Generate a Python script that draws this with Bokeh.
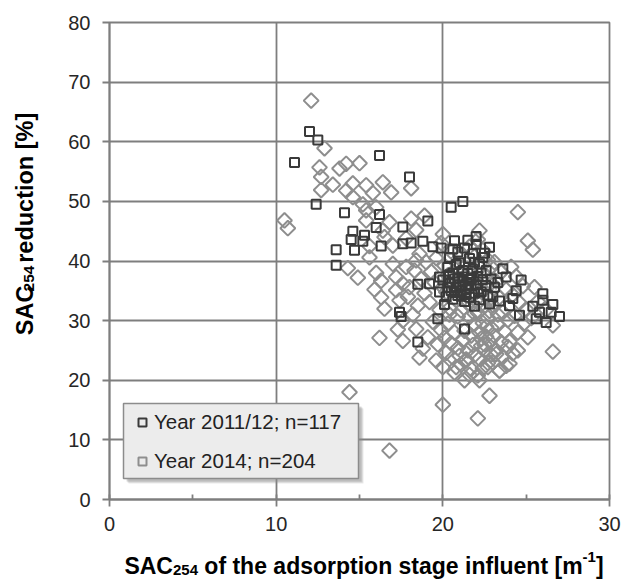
import numpy as np
from bokeh.plotting import figure
from bokeh.layouts import column, row
from bokeh.models import (Range1d, SingleIntervalTicker, Label, Legend, LegendItem,
                          BoxAnnotation, ColumnDataSource)
from bokeh.embed import file_html
from bokeh.resources import INLINE

# ---------------- data ----------------
sq_x = [12.0, 12.5, 11.1, 16.2, 18.0, 12.4, 21.2, 20.5, 14.1, 16.2,
        19.1, 16.0, 17.6, 14.6, 15.3, 14.5, 15.2, 16.3, 17.6, 18.1,
        18.8, 19.4, 19.9, 13.6, 14.7, 13.6, 20.7, 21.5, 22.0, 22.8,
        22.4, 22.2, 20.4, 23.6, 23.8, 24.7, 24.4, 23.1, 18.5, 19.2,
        19.8, 19.8, 20.1, 21.9, 22.8, 24.0, 24.2, 24.6, 25.4, 26.0,
        26.0, 26.6, 25.6, 26.2, 27.0, 26.5, 25.8, 17.4, 17.5, 19.7,
        21.3, 18.5,
        20.3, 20.6, 20.9, 21.2, 21.5, 21.8, 22.1, 20.4, 20.8, 21.1,
        21.4, 21.7, 22.0, 22.3, 20.2, 20.6, 20.9, 21.3, 21.6, 21.9,
        22.2, 20.5, 21.0, 21.5, 20.7, 21.2, 21.0, 21.6, 20.9, 21.3,
        22.5, 22.0, 20.6, 21.8, 22.6, 22.9, 23.3, 23.0, 22.6, 20.0,
        20.3, 21.7, 21.1, 20.8, 22.4, 21.4, 20.7, 22.1, 21.9, 22.7,
        23.4, 21.6, 20.4, 21.2, 22.3]
sq_y = [61.7, 60.3, 56.5, 57.7, 54.1, 49.5, 50.0, 49.0, 48.1, 47.8,
        46.7, 45.6, 45.7, 45.0, 44.3, 43.6, 43.3, 42.5, 42.9, 43.0,
        43.3, 42.4, 42.2, 41.9, 41.8, 39.3, 43.4, 43.5, 44.1, 42.3,
        40.6, 39.5, 40.6, 38.7, 37.3, 36.8, 35.0, 35.6, 36.1, 36.2,
        37.3, 34.8, 32.7, 32.4, 32.8, 32.5, 33.7, 30.9, 32.4, 34.5,
        33.4, 32.7, 30.3, 29.7, 30.7, 31.4, 31.4, 31.4, 30.7, 30.3,
        28.6, 26.4,
        38.9, 38.0, 37.2, 36.6, 37.9, 38.6, 37.4, 36.3, 35.5, 35.0,
        34.4, 35.8, 36.0, 34.8, 34.0, 33.6, 34.2, 33.2, 33.9, 34.6,
        33.5, 35.0, 36.0, 36.1, 37.0, 38.4, 39.7, 40.4, 41.5, 42.2,
        41.3, 42.8, 42.0, 41.2, 38.4, 37.0, 36.4, 34.0, 35.9, 36.8,
        35.6, 37.1, 34.1, 39.4, 36.9, 35.2, 34.7, 35.3, 39.8, 34.2,
        33.3, 36.9, 37.7, 37.3, 38.0]

di_x = [12.1, 12.9, 13.8, 14.2, 15.0, 12.6, 12.7, 13.4, 12.7, 14.2,
        14.6, 15.4, 15.8, 16.4, 16.9, 18.1, 14.6, 15.2, 15.4, 16.0,
        10.5, 10.7, 18.1, 18.9, 16.8, 15.4, 16.4, 24.5, 25.1, 25.4,
        22.2, 20.0, 15.6, 14.3, 17.0, 17.8, 18.4, 16.3, 17.2, 18.0,
        16.3, 16.5, 17.4, 17.6, 18.4, 16.2, 17.6, 18.8, 19.6, 20.0,
        20.8, 21.4, 21.3, 22.2, 22.1, 22.7, 23.4, 24.0, 24.2, 24.5,
        23.2, 26.6, 20.0, 22.1, 22.8, 14.4, 16.8,
        18.6, 19.0, 19.3, 18.7, 19.5, 18.9, 19.2, 19.8, 18.5, 19.4,
        19.9, 19.1, 19.7, 18.3, 17.6, 17.9, 17.2, 18.2, 19.6, 19.9,
        20.1, 20.3, 20.6, 20.2, 20.8, 20.4, 20.9, 20.3, 20.7, 20.1,
        20.5, 20.9, 20.2, 20.6, 21.0, 20.4, 20.8, 20.5, 20.0, 20.7,
        21.1, 21.4, 21.2, 21.7, 21.3, 21.8, 21.5, 21.1, 21.6, 21.9,
        21.3, 21.7, 21.2, 21.8, 21.5, 21.9, 21.4, 21.1, 21.7, 21.6,
        21.9, 21.3, 21.6, 21.0,
        22.1, 22.4, 22.7, 22.2, 22.6, 22.9, 22.3, 22.8, 22.5, 22.1,
        22.7, 22.4, 22.9, 22.2, 22.6, 22.8, 22.3, 22.5, 22.9, 22.2,
        22.7, 22.4, 22.6, 22.3, 22.8, 22.5, 22.1, 22.9,
        23.1, 23.5, 23.2, 23.8, 23.4, 23.0, 23.6, 23.9, 23.3, 23.7,
        23.1, 23.5, 23.9, 23.2, 23.6, 23.0, 23.4, 23.8, 23.3,
        24.1, 24.4, 24.8, 24.2, 24.6, 25.0, 24.3, 24.9, 25.3, 25.7,
        25.5, 26.2, 26.6, 24.5, 25.1, 24.0,
        16.5, 17.0, 17.8, 18.4, 16.0, 15.6, 14.9, 15.9, 17.3, 18.6]
di_y = [66.9, 58.9, 55.5, 56.3, 56.4, 55.7, 54.1, 52.8, 51.9, 51.8,
        53.0, 52.7, 51.4, 53.2, 51.5, 52.2, 50.7, 49.5, 48.5, 49.0,
        46.8, 45.5, 47.1, 47.6, 46.5, 46.8, 45.1, 48.2, 43.4, 41.9,
        45.1, 44.5, 40.6, 38.8, 39.5, 39.0, 40.1, 36.7, 37.3, 35.6,
        33.9, 32.0, 33.4, 30.0, 28.6, 27.1, 26.6, 25.3, 23.3, 22.2,
        22.2, 23.3, 20.0, 20.0, 20.8, 22.2, 21.6, 22.8, 24.5, 25.0,
        24.4, 24.8, 15.9, 13.6, 17.4, 18.0, 8.2,
        41.2, 39.8, 38.2, 37.0, 36.4, 34.6, 33.1, 31.8, 32.5, 29.8,
        28.4, 27.2, 26.0, 38.4, 36.2, 34.0, 35.1, 31.0, 40.5, 43.0,
        39.2, 37.6, 36.1, 34.8, 33.5, 32.1, 30.7, 29.5, 28.0, 27.1,
        26.2, 25.4, 24.6, 23.8, 24.1, 31.0, 38.5, 41.6, 35.6, 21.3,
        41.0, 39.6, 38.0, 36.8, 35.4, 34.2, 32.9, 31.7, 30.6, 29.4,
        28.3, 27.5, 26.7, 25.9, 25.0, 24.2, 23.5, 22.6, 21.9, 20.9,
        31.2, 33.8, 42.4, 36.5,
        43.6, 41.8, 40.2, 38.9, 37.5, 36.3, 35.0, 33.6, 32.4, 31.3,
        30.5, 29.6, 28.8, 28.0, 27.3, 26.5, 25.8, 25.0, 24.3, 23.6,
        22.9, 22.0, 29.0, 27.0, 31.6, 26.0, 33.0, 39.0,
        39.8, 38.1, 36.6, 35.2, 33.9, 32.6, 31.4, 30.1, 29.3, 28.2,
        27.4, 26.4, 25.6, 25.0, 23.9, 23.0, 21.6, 22.4, 31.0,
        39.0, 37.4, 35.8, 34.3, 33.0, 31.9, 30.8, 29.6, 30.4, 33.2,
        35.6, 31.8, 29.2, 28.0, 27.2, 26.5,
        44.0, 42.6, 43.8, 45.2, 38.0, 42.5, 37.2, 35.2, 28.5, 23.8]

legend_labels = ["Year 2011/12; n=117", "Year 2014; n=204"]

# ---------------- layout constants (page pixels) ----------------
PW, PH = 624, 583          # whole picture
LW = 48                    # width of left title strip
TH = 540                   # height of top row (plot + tick labels)
FL, FR, FT, FB = 109, 609, 22, 499   # plot frame in page pixels
XMIN, XMAX, YMIN, YMAX = 0, 30, 0, 80

FONT = "Liberation Sans"
GRID = "#7e7e7e"


def text_fig(w, h):
    f = figure(width=w, height=h, output_backend="svg", toolbar_location=None,
               x_range=Range1d(0, w), y_range=Range1d(0, h),
               x_axis_type=None, y_axis_type=None,
               background_fill_color="white", border_fill_color="white")
    f.min_border = 0
    f.min_border_left = f.min_border_right = f.min_border_top = f.min_border_bottom = 0
    f.outline_line_color = None
    f.grid.visible = False
    return f


# ---------------- main plot ----------------
p = figure(width=PW - LW, height=TH, output_backend="svg", toolbar_location=None,
           x_range=Range1d(XMIN, XMAX), y_range=Range1d(YMIN, YMAX),
           background_fill_color="white", border_fill_color="white")
p.min_border_left = FL - LW
p.min_border_right = PW - FR
p.min_border_top = FT
p.min_border_bottom = TH - FB
p.outline_line_color = GRID
p.outline_line_width = 1.8

for ax in (p.xaxis, p.yaxis):
    ax.axis_line_color = GRID
    ax.axis_line_width = 1.8
    ax.major_tick_line_color = GRID
    ax.major_tick_line_width = 1.8
    ax.major_tick_out = 7
    ax.major_tick_in = 0
    ax.minor_tick_line_color = GRID
    ax.minor_tick_line_width = 1.8
    ax.minor_tick_in = 5
    ax.minor_tick_out = 0
    ax.major_label_text_font = FONT
    ax.major_label_text_font_size = "20px"
    ax.major_label_text_color = "#262626"
p.xaxis.ticker = SingleIntervalTicker(interval=10, num_minor_ticks=2)
p.yaxis.ticker = SingleIntervalTicker(interval=10, num_minor_ticks=0)
p.xaxis.major_label_standoff = 10
p.yaxis.major_label_standoff = 12

p.xgrid.ticker = SingleIntervalTicker(interval=10)
p.ygrid.ticker = SingleIntervalTicker(interval=10)
for g in (p.xgrid, p.ygrid):
    g.grid_line_color = GRID
    g.grid_line_width = 1.8

di_src = ColumnDataSource(dict(x=di_x, y=di_y))
sq_src = ColumnDataSource(dict(x=sq_x, y=sq_y))
r_di = p.scatter("x", "y", source=di_src, marker="square", angle=np.pi / 4, size=10.5,
                 line_color="#8e8e8e", line_width=2, fill_color=None)
r_sq = p.scatter("x", "y", source=sq_src, marker="square", size=9,
                 line_color="#3a3a3a", line_width=2, fill_color=None)


def xd(px):
    return XMIN + (px - FL) / (FR - FL) * (XMAX - XMIN)


def yd(py):
    return YMIN + (FB - py) / (FB - FT) * (YMAX - YMIN)


# legend box (page pixels) with soft shadow
BL, BR, BT, BB = 123, 358, 403, 478
for off, alpha in ((5, 0.18), (4, 0.25), (3, 0.3)):
    p.add_layout(BoxAnnotation(left=xd(BL + off), right=xd(BR + off),
                               top=yd(BT + off), bottom=yd(BB + off),
                               fill_color="#8a8a8a", fill_alpha=alpha, line_color=None))
p.add_layout(BoxAnnotation(left=xd(BL), right=xd(BR), top=yd(BT), bottom=yd(BB),
                           fill_color="#ececec", fill_alpha=1,
                           line_color="#8c8c8c", line_width=1.5, line_alpha=1))

legend = Legend(items=[LegendItem(label=legend_labels[0], renderers=[r_sq]),
                       LegendItem(label=legend_labels[1], renderers=[r_di])],
                location=(BL - FL + 7, FB - BB + 5))
legend.background_fill_alpha = 0
legend.border_line_color = None
legend.label_text_font = FONT
legend.label_text_font_size = "20.5px"
legend.label_text_color = "#222222"
legend.label_height = 20
legend.glyph_height = 20
legend.glyph_width = 24
legend.padding = 8
legend.spacing = 15
legend.label_standoff = 0
legend.margin = 0
p.add_layout(legend, "center")

# ---------------- composed axis titles (sub/superscripts) ----------------
AB = {' ': 278, 'S': 667, 'A': 722, 'C': 722, 'o': 611, 'f': 333, 't': 333, 'h': 611,
      'e': 556, 'a': 556, 'd': 611, 's': 556, 'r': 389, 'p': 611, 'i': 278, 'n': 611,
      'g': 611, 'u': 611, 'l': 278, '[': 333, ']': 333, 'm': 889, '-': 333, '%': 889,
      'c': 556}


def tw(t, size):
    return sum(AB.get(ch, 556) for ch in t) * size / 1000.0


def place(fig, fig_h, ox, oy, pieces, center, base, vertical):
    """center/base in page pixels; (ox, oy) = page position of fig's top-left."""
    total = sum(tw(t, s) for t, s, _ in pieces)
    pos = -total / 2
    for t, s, shift in pieces:
        lead = len(t) - len(t.lstrip(" "))
        pos += tw(" " * lead, s)          # leading blanks would collapse in SVG
        t = t.lstrip(" ")
        if vertical:
            px, py, ang = base + shift, center - pos, np.pi / 2
        else:
            px, py, ang = center + pos, base + shift, 0
        fig.add_layout(Label(x=px - ox, y=fig_h - (py - oy), text=t, angle=ang,
                             text_font=FONT, text_font_style="bold",
                             text_font_size=f"{s}px", text_color="#000000",
                             text_align="left", text_baseline="alphabetic"))
        pos += tw(t, s)


left = text_fig(LW, TH)
place(left, TH, 0, 0, [("SAC", 23.5, 0), ("254", 15.5, 4), (" reduction [%]", 23.5, 0)],
      center=238, base=24, vertical=True)

bottom = text_fig(PW, PH - TH)
place(bottom, PH - TH, 0, TH,
      [("SAC", 23, 0), ("254", 15, 4), (" of the adsorption stage influent [m", 23, 0),
       ("-1", 15, -9), ("]", 23, 0)],
      center=363.5, base=565, vertical=False)

layout = column(row(left, p, spacing=0), bottom, spacing=0)
open("out.html", "w").write(file_html(layout, INLINE))
